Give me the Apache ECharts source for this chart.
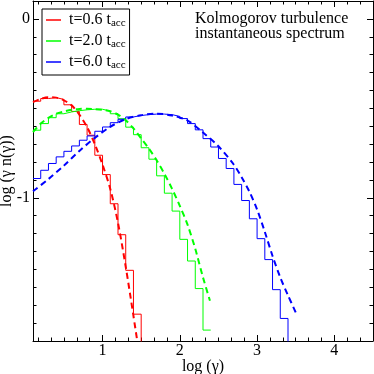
<!DOCTYPE html>
<html>
<head>
<meta charset="utf-8">
<script src="https://cdn.jsdelivr.net/npm/echarts@6/dist/echarts.min.js"></script>
<style>
html, body { margin: 0; padding: 0; background: #fff; }
#chart { width: 374px; height: 374px; }
</style>
</head>
<body>
<div id="chart"></div>
<script>
// bin edges in log(gamma)
var binEdges = [0.1, 0.2, 0.3, 0.4, 0.5, 0.6, 0.7, 0.8, 0.9, 1.0, 1.1, 1.2, 1.3, 1.4, 1.5, 1.6, 1.7,
  1.8, 1.9, 2.0, 2.1, 2.2, 2.3, 2.4, 2.5, 2.6, 2.7, 2.8, 2.9, 3.0, 3.1, 3.2, 3.3, 3.4]

// histogram values, one per bin starting at 0.1
var redHist = [-0.46, -0.445, -0.44, -0.45, -0.48, -0.517, -0.59, -0.65, -0.762, -0.87,
  -1.033, -1.206, -1.405, -1.65]
var greenHist = [-0.622, -0.585, -0.552, -0.53, -0.52, -0.513, -0.508, -0.505, -0.505, -0.515,
  -0.53, -0.558, -0.605, -0.647, -0.72, -0.784, -0.877, -0.974, -1.074, -1.232, -1.353, -1.507, -1.739]
var blueHist = [-0.892, -0.846, -0.808, -0.771, -0.74, -0.71, -0.678, -0.654, -0.628, -0.604,
  -0.58, -0.561, -0.548, -0.54, -0.535, -0.532, -0.532, -0.535, -0.545, -0.557, -0.585, -0.62,
  -0.669, -0.716, -0.78, -0.836, -0.925, -1.015, -1.117, -1.228, -1.345, -1.513, -1.674]

// dashed model curves [log gamma, value]
var redFit = [[0.1, -0.465], [0.2, -0.447], [0.3, -0.438], [0.4, -0.44], [0.5, -0.455], [0.6, -0.483],
  [0.7, -0.535], [0.8, -0.605], [0.9, -0.7], [1.0, -0.815], [1.1, -0.95], [1.2, -1.14], [1.3, -1.385],
  [1.4, -1.66], [1.47, -1.86]]
var greenFit = [[0.1, -0.632], [0.2, -0.585], [0.3, -0.553], [0.4, -0.53], [0.5, -0.517], [0.6, -0.508],
  [0.7, -0.503], [0.8, -0.502], [0.9, -0.504], [1.0, -0.508], [1.1, -0.516], [1.2, -0.535], [1.3, -0.567],
  [1.4, -0.612], [1.5, -0.668], [1.6, -0.725], [1.7, -0.79], [1.8, -0.865], [1.9, -0.95], [2.0, -1.045],
  [2.1, -1.15], [2.2, -1.285], [2.3, -1.445], [2.39, -1.575]]
var blueFit = [[0.1, -0.963], [0.3, -0.895], [0.5, -0.82], [0.7, -0.738], [0.9, -0.665], [1.1, -0.603],
  [1.3, -0.56], [1.5, -0.538], [1.7, -0.53], [1.9, -0.54], [2.1, -0.568], [2.3, -0.635], [2.5, -0.712],
  [2.7, -0.815], [2.8, -0.885], [2.9, -0.965], [3.0, -1.065], [3.1, -1.19], [3.2, -1.325], [3.3, -1.445],
  [3.4, -1.545], [3.5, -1.64]]

var seriesNames = ['t=0.6', 't=2.0', 't=6.0']
var xMajor = [1, 2, 3, 4]
var yMajor = [0, -1]

var xMinor = []
for (var i = 1; i <= 27; i++) { if (i % 6) xMinor.push(i / 6) }
var yMinor = []
for (var j = -17; j <= 0; j++) { if (j !== 0 && j !== -10) yMinor.push(j / 10) }

var font = 'Liberation Serif'

function steps(values, endValue) {
  var pts = values.map(function (v, i) { return [binEdges[i], v] })
  pts.push([binEdges[values.length], endValue])
  return pts
}

function xAx(pos, ticks, len, major) {
  return {
    type: 'value', position: pos, min: 0.1, max: 4.5, offset: 0,
    axisLine: { show: major, onZero: false, lineStyle: { color: '#000', width: 1 } },
    axisTick: { show: true, inside: true, length: len, customValues: ticks, lineStyle: { color: '#000' } },
    axisLabel: {
      show: major && pos === 'bottom', customValues: ticks, margin: 2,
      color: '#000', fontSize: 16, fontFamily: font
    },
    splitLine: { show: false }
  }
}
function yAx(pos, ticks, len, major) {
  return {
    type: 'value', position: pos, min: -1.8, max: 0.1, offset: 0,
    axisLine: { show: major, onZero: false, lineStyle: { color: '#000', width: 1 } },
    axisTick: { show: true, inside: true, length: len, customValues: ticks, lineStyle: { color: '#000' } },
    axisLabel: {
      show: major && pos === 'left', customValues: ticks, margin: 3,
      color: '#000', fontSize: 16, fontFamily: font
    },
    splitLine: { show: false }
  }
}

var xAxes = [xAx('bottom', xMajor, 6, true), xAx('bottom', xMinor, 3.5, false),
  xAx('top', xMajor, 6, true), xAx('top', xMinor, 3.5, false)]
xAxes[0].name = 'log (γ)'
xAxes[0].nameLocation = 'middle'
xAxes[0].nameGap = 18
xAxes[0].nameMoveOverlap = false
xAxes[0].nameTextStyle = { color: '#000', fontSize: 16, fontFamily: font }

var yAxes = [yAx('left', yMajor, 6, true), yAx('left', yMinor, 3.5, false),
  yAx('right', yMajor, 6, true), yAx('right', yMinor, 3.5, false)]
yAxes[0].name = 'log (γ n(γ))'
yAxes[0].nameLocation = 'middle'
yAxes[0].nameGap = 18
yAxes[0].nameMoveOverlap = false
yAxes[0].nameTextStyle = { color: '#000', fontSize: 16, fontFamily: font }

function hist(name, color, data) {
  return {
    name: name, type: 'line', step: 'end', data: data, symbol: 'none',
    lineStyle: { color: color, width: 1 }, itemStyle: { color: color }
  }
}
function fit(name, color, data) {
  return {
    name: name, type: 'line', smooth: 0.3, data: data, symbol: 'none',
    lineStyle: { color: color, width: 2, type: [6, 4] }, itemStyle: { color: color }
  }
}

var chart = echarts.init(document.getElementById('chart'))
chart.setOption({
  animation: false,
  backgroundColor: '#fff',
  title: {
    text: 'Kolmogorov turbulence\ninstantaneous spectrum',
    left: 195, top: 11, padding: 0,
    textStyle: { color: '#000', fontSize: 16, fontWeight: 'normal', fontFamily: font, lineHeight: 15 }
  },
  grid: { left: 33, right: 1, top: 1, bottom: 33, outerBoundsMode: 'none', containLabel: false },
  legend: {
    data: seriesNames,
    orient: 'vertical', left: 42, top: 9,
    padding: [3, 4, 4, 4],
    borderColor: '#000', borderWidth: 1, borderRadius: 0,
    backgroundColor: '#fff',
    icon: 'rect',
    itemWidth: 15, itemHeight: 1.5, itemGap: 4,
    selectedMode: false,
    formatter: function (name) { return '{m|' + name + ' t}{s|acc}' },
    textStyle: {
      color: '#000', fontFamily: font,
      rich: {
        m: { fontSize: 16, lineHeight: 18, fontFamily: font, color: '#000', padding: [0, 0, 0, 3] },
        s: { fontSize: 11, lineHeight: 11, verticalAlign: 'bottom', fontFamily: font, color: '#000' }
      }
    }
  },
  xAxis: xAxes,
  yAxis: yAxes,
  series: [
    hist(seriesNames[0], '#ff0000', steps(redHist, -1.9)),
    hist(seriesNames[1], '#00ff00', steps(greenHist, greenHist[greenHist.length - 1])),
    hist(seriesNames[2], '#0000ff', steps(blueHist, -1.9)),
    fit('fit 0.6', '#ff0000', redFit),
    fit('fit 2.0', '#00ff00', greenFit),
    fit('fit 6.0', '#0000ff', blueFit)
  ]
})
</script>
</body>
</html>
